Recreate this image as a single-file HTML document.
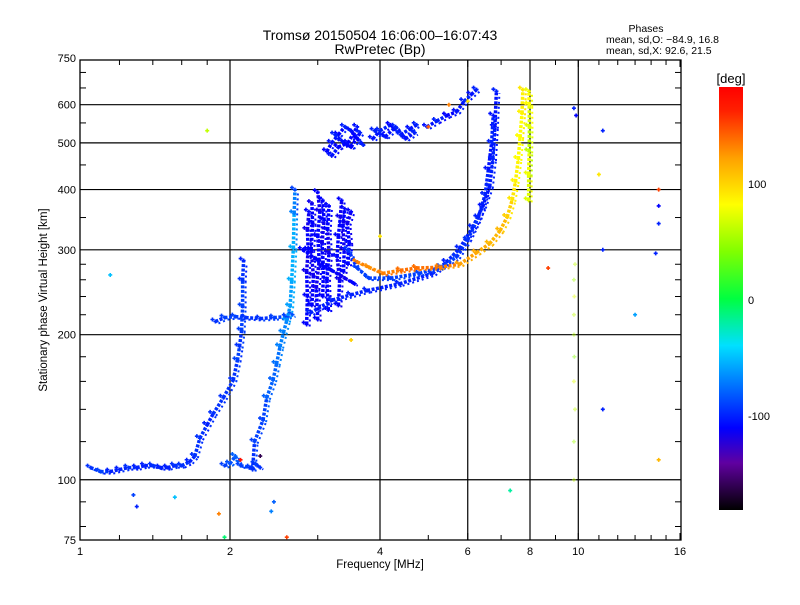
<!DOCTYPE html>
<html><head><meta charset="utf-8"><style>
body{margin:0;background:#fff;}
svg text{font-family:"Liberation Sans",sans-serif;fill:#000;}
</style></head><body>
<svg id="chart" width="800" height="600" viewBox="0 0 800 600">
<defs>
<linearGradient id="cbar" x1="0" y1="1" x2="0" y2="0">
<stop offset="0" stop-color="#000000"/><stop offset="0.111" stop-color="#6000a0"/>
<stop offset="0.194" stop-color="#0000ff"/><stop offset="0.306" stop-color="#0080ff"/>
<stop offset="0.389" stop-color="#00e0ff"/><stop offset="0.5" stop-color="#00ff40"/>
<stop offset="0.611" stop-color="#80ff00"/><stop offset="0.722" stop-color="#ffff00"/>
<stop offset="0.833" stop-color="#ffa000"/><stop offset="0.944" stop-color="#ff2000"/>
<stop offset="1" stop-color="#ff0000"/>
</linearGradient>
</defs>
<text x="380" y="40" font-size="14" text-anchor="middle">Tromsø 20150504 16:06:00–16:07:43</text>
<text x="380" y="54" font-size="14" text-anchor="middle">RwPretec (Bp)</text>
<g font-size="10.5">
<text x="646" y="32" text-anchor="middle">Phases</text>
<text x="606" y="43">mean, sd,O: −84.9, 16.8</text>
<text x="606" y="54">mean, sd,X:  92.6, 21.5</text>
</g>
<g id="grid"></g>
<g id="marks"></g>
<rect x="80" y="60" width="601" height="480" fill="none" stroke="#000" stroke-width="1.3"/>
<g id="axes"></g>
<text x="380" y="568" font-size="11.5" text-anchor="middle">Frequency [MHz]</text>
<text transform="translate(47,300) rotate(-90)" font-size="11.5" text-anchor="middle">Stationary phase Virtual Height [km]</text>
<rect x="719" y="87" width="24" height="423" fill="url(#cbar)"/>
<text x="731" y="83" font-size="13" text-anchor="middle">[deg]</text>
<g id="cbticks" font-size="11"></g>
</svg>
<script>
const xTickValues=[1,2,4,6,8,10,16];
const xMinorValues=[1.2,1.4,1.6,1.8,3,5,7,9,11,12,13,14,15];
const yTickValues=[75,100,200,300,400,500,600,750];
const yMinorValues=[80,90,120,140,160,180,220,240,260,280,350,450,550,650,700];
const cbTickValues=[100,0,-100];

const oLowTrace=[[1.05,106,-95],[1.1,104,-90],[1.15,104,-100],[1.2,105,-100],[1.25,106,-95],[1.3,106,-100],[1.35,107,-100],[1.4,107,-95],[1.45,106,-100],[1.5,106,-100],[1.55,107,-95],[1.6,107,-95],[1.66,109,-100],[1.7,112,-95],[1.74,122,-95],[1.8,130,-100],[1.85,137,-95],[1.94,148,-95],[2.03,161,-95],[2.07,177,-90],[2.09,189,-95],[2.11,204,-90],[2.12,229,-90],[2.12,259,-95],[2.13,285,-100]];
const lowFlat2=[[1.95,107,-90],[2.0,108,-85],[2.05,112,-80],[2.1,107,-90],[2.2,106,-90],[2.25,108,-90],[2.3,106,-95]];
const f1Ledge=[[1.87,213,-95],[1.95,217,-90],[2.05,218,-90],[2.15,217,-95],[2.3,216,-95],[2.45,217,-90],[2.6,218,-90],[2.67,220,-85]];
const xLowTrace=[[2.22,105,-95],[2.24,120,-90],[2.33,133,-90],[2.37,148,-80],[2.44,161,-80],[2.48,174,-75],[2.52,189,-70],[2.56,202,-70],[2.6,214,-65],[2.64,229,-60],[2.66,259,-55],[2.68,302,-55],[2.69,357,-70],[2.7,400,-90]];
const strandA=[[2.85,210,-110],[2.86,240,-110],[2.85,270,-115],[2.87,300,-110],[2.86,330,-115],[2.88,360,-110]];
const strandA2=[[2.92,230,-110],[2.94,265,-115],[2.91,300,-110],[2.93,340,-110],[2.92,375,-115]];
const strandB=[[3.0,215,-110],[2.98,250,-115],[3.02,285,-110],[3.0,320,-110],[3.03,360,-115],[3.0,395,-110]];
const strandB2=[[3.07,240,-110],[3.08,275,-110],[3.06,310,-115],[3.09,345,-110],[3.07,380,-110]];
const strandC=[[3.15,225,-110],[3.13,260,-110],[3.16,295,-115],[3.14,330,-110],[3.16,370,-110]];
const strandD=[[3.3,230,-110],[3.32,260,-115],[3.28,290,-110],[3.3,320,-110],[3.33,350,-115],[3.35,380,-110]];
const strandD2=[[3.38,270,-110],[3.39,300,-115],[3.37,335,-110],[3.4,365,-110]];
const strandE=[[3.45,280,-110],[3.47,310,-110],[3.44,340,-115],[3.5,360,-110]];
const diagBand=[[2.8,300,-110],[3.0,285,-110],[3.2,272,-110],[3.4,262,-115],[3.56,255,-110]];
const oF2Lower=[[2.9,222,-100],[3.21,236,-100],[3.5,242,-100],[3.77,247,-100],[4.38,255,-100],[5.1,268,-100],[5.44,283,-100],[5.78,302,-100],[6.14,334,-100],[6.43,369,-105],[6.64,406,-100],[6.74,463,-100],[6.8,540,-105],[6.85,640,-100]];
const oF2Upper=[[3.45,300,-95],[3.6,275,-90],[3.8,262,-90],[4.2,262,-90],[4.8,268,-90],[5.3,276,-90],[5.7,290,-95],[6.0,315,-95],[6.3,350,-100],[6.5,390,-100],[6.6,440,-105],[6.7,500,-100],[6.75,570,-105]];
const xF2Trace=[[3.6,283,130],[3.8,276,125],[4.05,268,130],[4.4,272,135],[4.74,275,135],[5.27,276,130],[5.78,280,120],[6.25,296,115],[6.64,309,110],[6.97,329,110],[7.2,351,100],[7.37,381,90],[7.48,415,85],[7.58,463,80],[7.64,514,80],[7.71,576,85],[7.74,645,90]];
const cuspStrip=[[7.95,380,70],[7.95,430,75],[7.97,480,60],[7.98,540,70],[7.97,600,80],[7.96,640,75]];
const upperCluster1=[[3.13,480,-110],[3.2,500,-105],[3.3,520,-110],[3.4,540,-100],[3.5,530,-105],[3.6,510,-110],[3.7,495,-100]];
const upperCluster1b=[[3.2,470,-105],[3.3,490,-110],[3.45,500,-110],[3.6,540,-105]];
const upperCluster1c=[[3.25,520,-100],[3.35,505,-105],[3.5,490,-110],[3.65,525,-100]];
const upperCluster2=[[3.87,510,-105],[4.0,530,-100],[4.2,545,-110],[4.4,520,-100],[4.6,535,-105],[4.74,545,-100]];
const upperCluster2b=[[3.9,530,-100],[4.1,515,-105],[4.3,540,-100],[4.5,510,-105],[4.7,525,-100]];
const upperCluster3=[[4.97,540,-105],[5.2,555,-100],[5.45,570,-110],[5.7,580,-105],[5.9,610,-100],[6.1,630,-105],[6.25,645,-100]];
const f10Strip=[[9.8,100,60],[9.8,120,50],[9.85,140,60],[9.8,160,70],[9.82,180,40],[9.8,200,55],[9.8,220,60],[9.82,240,70],[9.8,260,50],[9.85,280,60]];
const noisePoints=[[1.15,266,-50],[1.8,530,60],[11.2,530,-100],[11.0,430,90],[11.2,300,-100],[11.2,140,-100],[14.5,400,150],[14.5,370,-110],[14.5,340,-100],[14.3,295,-100],[14.5,110,110],[13,220,-60],[9.8,590,-100],[9.9,570,-110],[8.7,275,150],[7.3,95,-20],[2.6,76,150],[1.9,85,130],[1.95,76,-10],[1.55,92,-50],[1.3,88,-100],[1.28,93,-90],[2.45,90,-80],[2.42,86,-70],[3.5,195,100],[5.0,540,140],[5.5,600,130],[6.0,610,90],[4.0,320,90],[2.1,110,170],[2.3,112,-160]];

const traces=[oLowTrace,lowFlat2,f1Ledge,xLowTrace,strandA,strandA2,strandB,strandB2,strandC,strandD,strandD2,strandE,diagBand,oF2Lower,oF2Upper,xF2Trace,cuspStrip,upperCluster1,upperCluster1b,upperCluster1c,upperCluster2,upperCluster2b,upperCluster3];
const traceNames=['o-low-trace','low-flat-trace','f1-ledge','x-low-trace','cluster-strand-a','cluster-strand-a2','cluster-strand-b','cluster-strand-b2','cluster-strand-c','cluster-strand-d','cluster-strand-d2','cluster-strand-e','diag-band','o-f2-lower','o-f2-upper','x-f2-trace','cusp-strip','upper-cluster-1','upper-cluster-1b','upper-cluster-1c','upper-cluster-2','upper-cluster-2b','upper-cluster-3'];

const NS='http://www.w3.org/2000/svg';
function xs(f){return 80+150*Math.log2(f);}
function ys(h){return 540-482*Math.log10(h/75);}
function cy(p){return 300-p*1.16;}
const stops=[[-180,[0,0,0]],[-140,[96,0,160]],[-110,[0,0,255]],[-70,[0,128,255]],[-40,[0,224,255]],[0,[0,255,64]],[40,[128,255,0]],[80,[255,255,0]],[120,[255,160,0]],[160,[255,32,0]],[180,[255,0,0]]];
function col(p){for(let i=0;i<stops.length-1;i++){const a=stops[i],b=stops[i+1];if(p<=b[0]){const t=Math.max(0,(p-a[0])/(b[0]-a[0]));return 'rgb('+a[1].map((v,k)=>Math.round(v+(b[1][k]-v)*t)).join(',')+')';}}return 'rgb(255,0,0)';}
function mk(tag,attrs,parent){const e=document.createElementNS(NS,tag);for(const k in attrs)e.setAttribute(k,attrs[k]);parent.appendChild(e);return e;}

const grid=document.getElementById('grid');
[2,4,6,8,10].forEach(v=>{const l=mk('line',{x1:xs(v),x2:xs(v),y1:60,y2:540,stroke:'#000','stroke-width':1.2},grid);

});
[100,200,300,400,500,600].forEach(v=>{const l=mk('line',{x1:80,x2:681,y1:ys(v),y2:ys(v),stroke:'#000','stroke-width':1.2},grid);

});

const axes=document.getElementById('axes');
xTickValues.forEach(v=>{const t=mk('text',{x:xs(v),y:555,'font-size':11,'text-anchor':'middle'},axes);t.textContent=v;


[[540,533],[60,67]].forEach(s=>mk('line',{x1:xs(v),x2:xs(v),y1:s[0],y2:s[1],stroke:'#000'},axes));});
xMinorValues.forEach(v=>{[[540,535],[60,65]].forEach(s=>{const l=mk('line',{x1:xs(v),x2:xs(v),y1:s[0],y2:s[1],stroke:'#000'},axes);

});});
yTickValues.forEach(v=>{const t=mk('text',{x:76,y:ys(v)+4,'font-size':11,'text-anchor':'end'},axes);t.textContent=v;

});
yMinorValues.forEach(v=>{[[80,86],[681,675]].forEach(s=>{const l=mk('line',{x1:s[0],x2:s[1],y1:ys(v),y2:ys(v),stroke:'#000'},axes);

});});

const cb=document.getElementById('cbticks');
cbTickValues.forEach(v=>{const t=mk('text',{x:748,y:cy(v)+4},cb);t.textContent=v;

});

const marks=document.getElementById('marks');
function plus(x,y,c,g,op){mk('path',{d:`M${x-2} ${y}h4M${x} ${y-2}v4`,stroke:c,'stroke-width':1.6,fill:'none',opacity:op||1},g);}
traces.forEach((tr,ti)=>{const g=mk('g',{},marks);


for(let i=0;i<tr.length-1;i++){const a=tr[i],b=tr[i+1];
mk('line',{x1:xs(a[0]),y1:ys(a[1]),x2:xs(b[0]),y2:ys(b[1]),stroke:col(a[2]),'stroke-width':3.5,'stroke-dasharray':'3 1.5'},g);
mk('line',{x1:xs(a[0])+3,y1:ys(a[1])+2,x2:xs(b[0])+3,y2:ys(b[1])+2,stroke:col(b[2]),'stroke-width':2,'stroke-dasharray':'2 3'},g);}
tr.forEach(p=>{plus(xs(p[0]),ys(p[1]),col(p[2]),g);plus(xs(p[0])-3,ys(p[1])-2,col(p[2]),g);});});
const fs=mk('g',{},marks);


f10Strip.forEach(p=>plus(xs(p[0]),ys(p[1]),col(p[2]),fs,0.45));
const ng=mk('g',{},marks);


noisePoints.forEach(p=>plus(xs(p[0]),ys(p[1]),col(p[2]),ng));
</script>
</body></html>
